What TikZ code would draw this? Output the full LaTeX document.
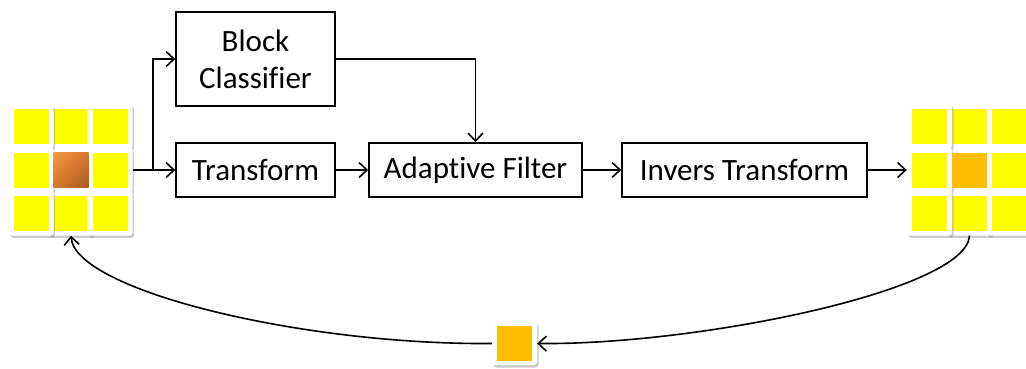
\documentclass[tikz,border=0pt]{standalone}
\usepackage{fontspec}
\setmainfont{Carlito}[Ligatures=NoCommon]
\usetikzlibrary{arrows.meta,shadows,shadings}

\definecolor{tileyellow}{RGB}{255,255,0}
\definecolor{amber}{RGB}{255,190,0}
\definecolor{rustlight}{RGB}{245,150,65}
\definecolor{rustmid}{RGB}{215,120,45}
\definecolor{rustdark}{RGB}{170,90,35}

\begin{document}
\begin{tikzpicture}[x=1pt,y=-1pt,
  blockbox/.style={draw, line width=1.6pt, inner sep=0pt, align=center,
    font=\fontsize{31}{37}\selectfont},
  tile/.style={fill=white, rounded corners=3pt, minimum size=45pt, inner sep=0pt,
    drop shadow={shadow xshift=1.5pt, shadow yshift=-2.5pt, opacity=0.4}},
  cell/.style={fill=#1, minimum size=35pt, inner sep=0pt},
  arr/.style={line width=1.6pt, -{Straight Barb[length=8pt,width=15pt]}}
]
\useasboundingbox (0,0) rectangle (1026,369);
\clip (0,0) rectangle (1026,369);

% ---------- input block (left 3x3 grid) ----------
\foreach \c/\x in {2/71,1/31,3/110}{
  \foreach \r/\y in {1/126,2/170,3/213}{
    \node[tile] (L\r\c) at (\x,\y) {};
    \node[cell=tileyellow] at (L\r\c) {};
  }
}
\shade[upper left=rustlight, upper right=rustmid, lower left=rustmid,
       lower right=rustdark] (53.5,152.5) rectangle (88.5,187.5);

% ---------- output block (right 3x3 grid) ----------
\foreach \c/\x in {2/969.5,1/929.5,3/1009.5}{
  \foreach \r/\y in {1/126,2/170,3/213}{
    \node[tile] (R\r\c) at (\x,\y) {};
    \node[cell=tileyellow] at (R\r\c) {};
  }
}
\node[cell=amber] at (R22) {};

% ---------- filtered pixel ----------
\node[tile, minimum height=43pt] (S) at (514.5,343.5) {};
\node[cell=amber] at (S) {};

% ---------- processing blocks ----------
\node[blockbox, minimum width=159pt, minimum height=94pt] (BC) at (255.5,59) {Block\\Classifier};
\node[blockbox, minimum width=159pt, minimum height=54pt] (T) at (255.5,170) {Transform};
\node[blockbox, minimum width=213pt, minimum height=54pt] (AF) at (475.5,170) {Adaptive Filter};
\node[blockbox, minimum width=245pt, minimum height=54pt] (IT) at (744.5,170) {Invers Transform};

% ---------- connectors ----------
\coordinate (br) at (153,170);
\draw[arr] (L23.east) -- (T.west);
\draw[arr] (br) |- (BC.west);
\draw[arr] (BC.east) -| (AF.north);
\draw[arr] (T) -- (AF);
\draw[arr] (AF) -- (IT);
\draw[arr] (IT.east) -- (R21.west);
\draw[arr] (R32.south) .. controls (967,290) and (700,345) .. (S.east);
\draw[arr] (S.west) .. controls (300,345) and (75,290) .. (L32.south);
\end{tikzpicture}
\end{document}
